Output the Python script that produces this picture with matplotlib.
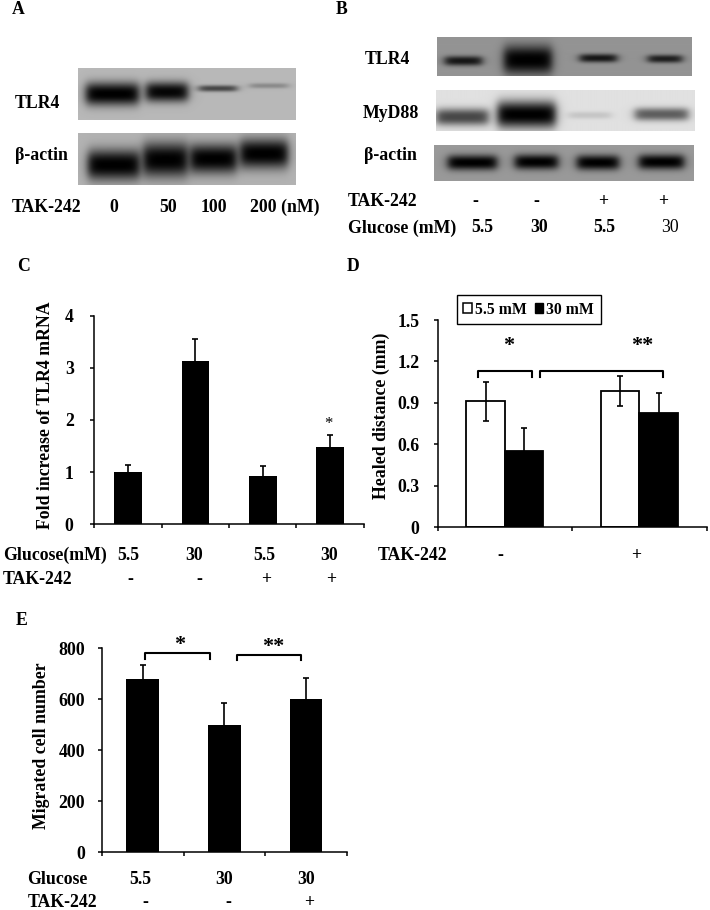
import numpy as np
import matplotlib
matplotlib.use("Agg")
import matplotlib.pyplot as plt
from matplotlib.patches import Patch

W, H = 710, 910

plt.rcParams['font.family'] = ['Liberation Serif', 'DejaVu Serif']
plt.rcParams['font.weight'] = 'bold'
plt.rcParams['font.size'] = 12.8
plt.rcParams['axes.linewidth'] = 1.1

# panel C
c_values = [1.0, 3.13, 0.92, 1.48]
c_err = [0.14, 0.43, 0.20, 0.23]
c_yticks = [0, 1, 2, 3, 4]
c_glucose = ['5.5', '30', '5.5', '30']
c_tak = ['-', '-', '+', '+']

# panel D
d_low = [0.91, 0.985]
d_low_err = [0.14, 0.11]
d_high = [0.553, 0.824]
d_high_err = [0.162, 0.145]
d_yticks = [0, 0.3, 0.6, 0.9, 1.2, 1.5]
d_yticklabels = ['0', '0.3', '0.6', '0.9', '1.2', '1.5']
d_tak = ['-', '+']

# panel E
e_values = [678, 499, 603]
e_err = [55, 88, 81]
e_yticks = [0, 200, 400, 600, 800]
e_glucose = ['5.5', '30', '30']
e_tak = ['-', '-', '+']

# blots: box (x0, x1, y0, y1), background grey, bands (x0, x1, yc, half height, darkness)
blot_a1 = ((78.3, 296, 68.3, 120), 0.72,
           [(86, 139, 94, 11.5, 1.0), (146, 188, 92, 10, 0.97),
            (199, 237, 88.5, 3.2, 0.62), (250, 288, 85.8, 2.6, 0.25)])
blot_a2 = ((78.3, 296, 132.7, 185), 0.70,
           [(88, 140, 165, 15, 1.0), (143, 188, 160, 17, 1.0),
            (190, 237, 159, 14.5, 1.0), (240, 288, 154, 14.5, 1.0)])
blot_b1 = ((437.3, 692.3, 36.7, 76), 0.58,
           [(445, 482, 61, 4.8, 0.85), (504, 552, 60, 14, 1.0),
            (580, 617, 58.3, 4.2, 0.85), (648, 682, 59, 4, 0.8)])
blot_b2 = ((436, 694, 90, 130.7), 0.88,
           [(436, 488, 116.7, 8.5, 0.68), (497, 555, 114.3, 13.5, 1.0),
            (568, 610, 115, 3.6, 0.12), (634, 687, 114, 6.5, 0.58)])
blot_b3 = ((434.3, 694, 145, 180.7), 0.60,
           [(448, 497, 162.3, 7.5, 1.0), (515, 558, 161.7, 7.5, 1.0),
            (577, 619, 162.3, 7.5, 1.0), (639, 684, 161.7, 7.5, 1.0)])


def px_axes(x0, x1, y0, y1):
    # axes placed by pixel box, y counted from the top of the picture
    return fig.add_axes([x0 / W, 1 - y1 / H, (x1 - x0) / W, (y1 - y0) / H])


def label(x, y, s, ha='left', **kw):
    fig.text(x / W, 1 - y / H, s, ha=ha, va='center', **kw)


def draw_blot(blot):
    (x0, x1, y0, y1), bg, bands = blot
    ax = px_axes(x0, x1, y0, y1)
    xx, yy = np.meshgrid(np.arange(x0, x1, 0.5), np.arange(y0, y1, 0.5))
    img = np.full(xx.shape, bg)
    for bx0, bx1, yc, hh, dark in bands:
        across = np.exp(-np.abs((yy - yc) / hh) ** 2.4)
        along = 1 / (1 + np.exp((bx0 - xx) / 2.6)) * 1 / (1 + np.exp((xx - bx1) / 2.6))
        img = img * (1 - dark * across * along)
    ax.imshow(img, cmap='gray', vmin=0, vmax=1, aspect='auto', interpolation='bilinear')
    ax.axis('off')


def style_axes(ax, n, yticks, yticklabels, pad):
    for s in ['top', 'right']:
        ax.spines[s].set_visible(False)
    ax.set_xlim(-0.5, n - 0.5)
    ax.set_xticks(np.arange(n + 1) - 0.5)
    ax.set_xticklabels([])
    ax.set_yticks(yticks)
    ax.set_yticklabels(yticklabels)
    ax.tick_params(axis='x', direction='out', length=3, width=1.1)
    ax.tick_params(axis='y', direction='out', length=3, width=1.1, pad=pad)
    ax.patch.set_alpha(0)


def bracket(ax, x0, x1, top, drop):
    ax.plot([x0, x0, x1, x1], [top - drop, top, top, top - drop], color='k', lw=1.5,
            solid_joinstyle='round', clip_on=False)


fig = plt.figure(figsize=(W / 100, H / 100), dpi=100, facecolor='white')

# A
draw_blot(blot_a1)
draw_blot(blot_a2)
label(12, 9, 'A')
label(15, 104, 'TLR4')
label(15, 156, 'β-actin')
label(12, 207, 'TAK-242')
label(114, 207, '0', ha='center')
label(168, 207, '50', ha='center')
label(214, 207, '100', ha='center')
label(250, 207, '200 (nM)')

# B
draw_blot(blot_b1)
draw_blot(blot_b2)
draw_blot(blot_b3)
label(336, 9, 'B')
label(364.3, 60, 'TLR4')
label(363, 113, 'MyD88')
label(364.3, 156, 'β-actin')
label(348, 202, 'TAK-242')
label(348, 228, 'Glucose (mM)')
for x, s in zip([475.7, 536, 603.3, 663.3], c_tak):
    label(x, 202, s, ha='center')
for x, s in zip([482.3, 539, 604.7], c_glucose):
    label(x, 228, s, ha='center')
label(670, 228, c_glucose[3], ha='center', fontweight='normal')

# C
ax = px_axes(94.5, 363.8, 315.7, 524.3)
x = np.arange(len(c_values))
ax.bar(x, c_values, width=0.41, color='k')
ax.errorbar(x, c_values, yerr=c_err, fmt='none', ecolor='k', elinewidth=1.2, capsize=2.2, capthick=1.2)
ax.set_ylim(0, 4)
style_axes(ax, len(c_values), c_yticks, c_yticks, 12)
ax.text(2.97, 1.92, '*', ha='center', va='center', fontsize=12, fontweight='normal')
label(17.3, 266, 'C')
label(45.7, 415, 'Fold increase of TLR4 mRNA', ha='center', rotation=90)
label(2.7, 555, 'Glucose(mM)')
label(2.7, 579.3, 'TAK-242')
for xp, s in zip([128, 194, 264, 329], c_glucose):
    label(xp, 555, s, ha='center')
for xp, s in zip([130, 199, 266, 330.7], c_tak):
    label(xp, 579.3, s, ha='center')

# D
ax = px_axes(437.7, 706.7, 320, 527)
x = np.arange(len(d_low))
b1 = ax.bar(x - 0.143, d_low, width=0.286, color='white', edgecolor='k', linewidth=1.3)
b2 = ax.bar(x + 0.143, d_high, width=0.286, color='k', edgecolor='k', linewidth=1.3)
ax.errorbar(x - 0.143, d_low, yerr=d_low_err, fmt='none', ecolor='k', elinewidth=1.2, capsize=2.2, capthick=1.2)
ax.errorbar(x + 0.143, d_high, yerr=d_high_err, fmt='none', ecolor='k', elinewidth=1.2, capsize=2.2, capthick=1.2)
ax.set_ylim(0, 1.5)
style_axes(ax, len(d_low), d_yticks, d_yticklabels, 10)
bracket(ax, -0.197, 0.204, 1.133, 0.048)
bracket(ax, 0.259, 1.175, 1.133, 0.048)
ax.text(0.03, 1.31, '*', ha='center', va='center', fontsize=16)
ax.text(1.02, 1.31, '**', ha='center', va='center', fontsize=16)
handles = [Patch(facecolor='white', edgecolor='k', linewidth=1.1, label='5.5 mM'),
           Patch(facecolor='k', edgecolor='k', label='30 mM')]
ax.legend(handles=handles, ncols=2, loc='center left',
          bbox_to_anchor=((456.7 - 437.7) / 269, (527 - 309.7) / 207),
          borderaxespad=0, borderpad=0.42, handlelength=0.55, handleheight=0.55,
          handletextpad=0.2, columnspacing=0.5, fancybox=False, framealpha=1, edgecolor='k',
          fontsize=11.3)
label(346.7, 266, 'D')
label(381.7, 415.8, 'Healed distance (mm)', ha='center', rotation=90)
label(377.7, 555, 'TAK-242')
for xp, s in zip([500.7, 636], d_tak):
    label(xp, 555, s, ha='center')

# E
ax = px_axes(102, 346.7, 648.3, 852.3)
x = np.arange(len(e_values))
ax.bar(x, e_values, width=0.4, color='k')
ax.errorbar(x, e_values, yerr=e_err, fmt='none', ecolor='k', elinewidth=1.2, capsize=2.2, capthick=1.2)
ax.set_ylim(0, 800)
style_axes(ax, len(e_values), e_yticks, e_yticks, 9)
bracket(ax, 0.03, 0.83, 780, 20)
bracket(ax, 1.15, 1.94, 775, 20)
ax.text(0.45, 813, '*', ha='center', va='center', fontsize=16, clip_on=False)
ax.text(1.6, 805, '**', ha='center', va='center', fontsize=16, clip_on=False)
label(16, 620.7, 'E')
label(41.7, 745.8, 'Migrated cell number', ha='center', rotation=90)
label(27.3, 879, 'Glucose')
label(27.3, 902.7, 'TAK-242')
for xp, s in zip([140.7, 224, 306], e_glucose):
    label(xp, 879, s, ha='center')
for xp, s in zip([145.7, 228.3, 309.3], e_tak):
    label(xp, 902.7, s, ha='center')

fig.savefig('out.png', dpi=100)
